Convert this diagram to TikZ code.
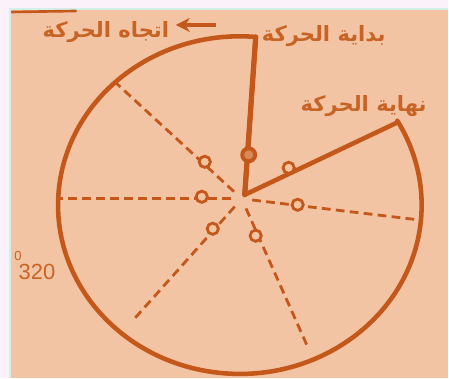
\documentclass[tikz,border=0pt]{standalone}
\usepackage{fontspec}
\setmainfont{Liberation Sans}
\newfontfamily\arabicfont[Script=Arabic]{DejaVu Sans}
\TeXXeTstate=1
\usetikzlibrary{positioning,arrows.meta}
\definecolor{scanpeach}{HTML}{F3C4A4}
\definecolor{scanlilac}{HTML}{FAF1FB}
\definecolor{scanedge}{HTML}{D3EFEA}
\definecolor{inkorange}{HTML}{C4581A}
\definecolor{inktext}{HTML}{C76425}

\begin{document}
\begin{tikzpicture}[x=0.02cm,y=-0.02cm,
  rim/.style   ={line width=2.6pt, draw=inkorange, line cap=round, line join=round},
  spoke/.style ={line width=1.6pt, draw=inkorange, dash pattern=on 5pt off 3pt, shorten <=6pt},
  ring/.style  ={circle, draw=inkorange, fill=scanpeach, line width=1.6pt, inner sep=0pt, minimum size=6.4pt},
  bigring/.style ={circle, draw=inkorange, fill=inkorange!55!scanpeach, line width=2.2pt, inner sep=0pt, minimum size=7.4pt},
  arlabel/.style ={font=\arabicfont\bfseries\fontsize{12}{14}\selectfont, text=inktext, inner sep=0pt},
  numlabel/.style={font=\fontsize{12.5}{14}\selectfont, text=inktext, inner sep=0pt},
]
% scanned page: lilac margin, peach paper
\fill[scanlilac] (0,0) rectangle (449,378);
\fill[scanpeach] (10,9) rectangle (449,378);
\draw[scanedge, line width=0.6pt] (10,378) -- (10,9) -- (449,9);
\useasboundingbox (0,0) rectangle (449,378);
% stray stroke at the top edge
\draw[inkorange, line width=1.5pt, line cap=round] (12,12) -- (76,11);

% hub and the ends of the solid part
\coordinate (hub)    at (245,195);
\coordinate (spokec) at (242,199);
\coordinate (top)    at (256,37);
\coordinate (endpt)  at (397,123);

% dashed positions (ends on the rim)
\coordinate (p1) at (115,82);
\coordinate (p2) at (57,199);
\coordinate (p3) at (132,322);
\coordinate (p4) at (307,345);
\coordinate (p5) at (418,220);
\foreach \p in {p1,p2,p3,p4,p5}
  \draw[spoke] (spokec) -- (\p);

% start line, end line and the swept rim
\draw[rim] (endpt) -- (hub) -- (top)
  arc[start angle=275, end angle=-30, x radius=182, y radius=169];
\draw[rim, line width=3pt] (hub) -- (top);

% position markers
\node[bigring] (m0) at (249,155) {};
\node[ring] (m6) at (289,168) {};
\foreach \n/\x/\y in {1/205/162, 2/202/197, 3/213/229, 4/256/236, 5/298/205}
  \node[ring] (m\n) at (\x,\y) {};

% labels
\node[arlabel] (startlbl) at (324,36)  {\beginR بداية الحركة\endR};
\node[arlabel] (endlbl)   at (364,106) {\beginR نهاية الحركة\endR};
\node[arlabel] (dirlbl)   at (106,32)  {\beginR اتجاه الحركة\endR};
\coordinate (arrtail) at (216,25);
\coordinate (arrhead) at (176,25);
\draw[inkorange, line width=1.9pt, -{Stealth[length=8pt,width=8pt]}] (arrtail) -- (arrhead);

\node[numlabel] (angle) at (37,272) {320};
\node[numlabel, font=\fontsize{7.5}{8}\selectfont] (deg) at (18,256) {0};
\end{tikzpicture}
\end{document}
